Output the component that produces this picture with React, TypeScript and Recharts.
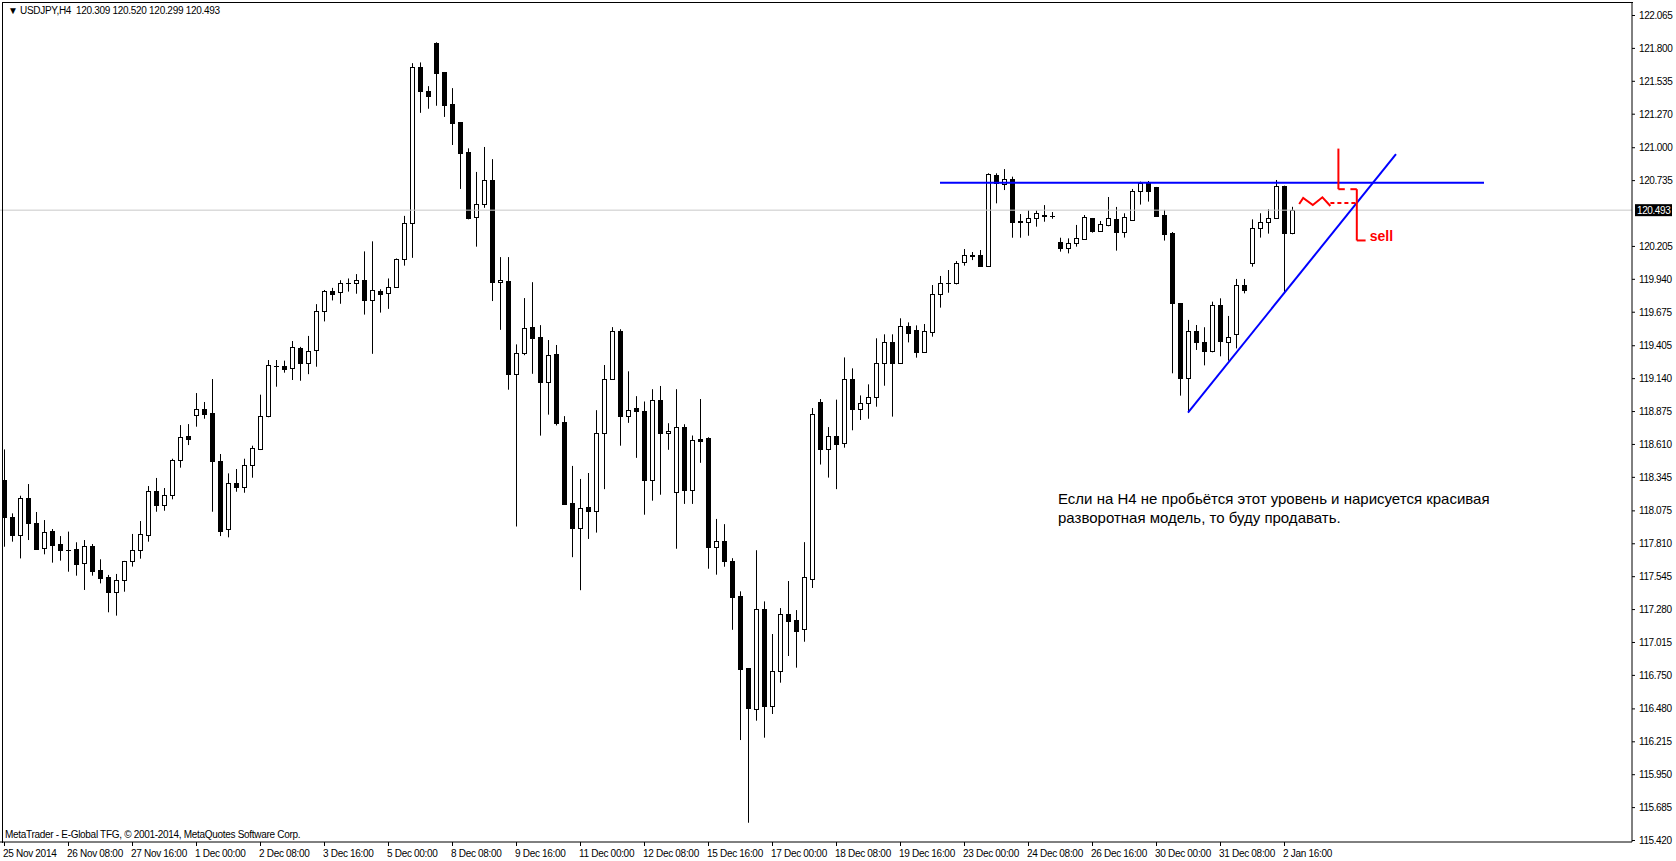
import React from 'react';
import { ComposedChart, Bar, Line, XAxis, YAxis, ReferenceLine, ReferenceDot } from 'recharts';

// USDJPY H4, 25 Nov 2014 - 2 Jan 2015, one label every 8 bars
const timeLabels = [
  '25 Nov 2014', '26 Nov 08:00', '27 Nov 16:00', '1 Dec 00:00', '2 Dec 08:00', '3 Dec 16:00',
  '5 Dec 00:00', '8 Dec 08:00', '9 Dec 16:00', '11 Dec 00:00', '12 Dec 08:00', '15 Dec 16:00',
  '17 Dec 00:00', '18 Dec 08:00', '19 Dec 16:00', '23 Dec 00:00', '24 Dec 08:00', '26 Dec 16:00',
  '30 Dec 00:00', '31 Dec 08:00', '2 Jan 16:00',
];
const labelStep = 8;

const opens = [
  118.319, 118.019, 117.874, 118.172, 117.970, 117.769, 117.909, 117.804, 117.758, 117.761,
  117.648, 117.788, 117.595, 117.538, 117.420, 117.512, 117.665, 117.756, 117.874, 118.228,
  118.115, 118.201, 118.480, 118.671, 118.840, 118.889, 118.859, 118.470, 117.922, 118.292,
  118.266, 118.443, 118.572, 118.832, 119.238, 119.238, 119.221, 119.382, 119.265, 119.363,
  119.679, 119.840, 119.831, 119.908, 119.905, 119.927, 119.771, 119.840, 119.823, 119.878,
  120.098, 120.387, 121.644, 121.454, 121.841, 121.606, 121.348, 121.203, 120.958, 120.436,
  120.539, 120.735, 119.913, 119.919, 119.175, 119.339, 119.548, 119.472, 119.113, 119.333,
  118.786, 118.133, 117.935, 118.099, 118.071, 118.695, 119.130, 119.518, 118.837, 118.896,
  118.879, 118.322, 118.961, 118.695, 118.221, 118.743, 118.240, 118.650, 118.656, 117.777,
  117.825, 117.667, 117.385, 116.805, 116.478, 117.278, 116.502, 116.778, 117.237, 117.189,
  117.117, 117.526, 118.950, 118.571, 118.678, 118.620, 119.130, 118.894, 118.937, 118.991,
  119.259, 119.428, 119.265, 119.557, 119.525, 119.353, 119.514, 119.815, 119.909, 119.903,
  120.073, 120.129, 120.129, 120.046, 120.773, 120.701, 120.741, 120.400, 120.395, 120.427,
  120.457, 120.446, 120.234, 120.185, 120.226, 120.264, 120.428, 120.328, 120.371, 120.419,
  120.320, 120.414, 120.650, 120.715, 120.677, 120.454, 120.307, 119.743, 119.139, 119.517,
  119.429, 119.356, 119.727, 119.429, 119.493, 119.888, 120.070, 120.347, 120.395, 120.428,
  120.685, 120.309,
];
const highs = [
  118.566, 118.051, 118.193, 118.287, 118.062, 117.997, 117.925, 117.868, 117.904, 117.818,
  117.836, 117.804, 117.681, 117.555, 117.563, 117.668, 117.885, 117.989, 118.271, 118.336,
  118.255, 118.491, 118.762, 118.770, 119.020, 118.948, 119.133, 118.529, 118.373, 118.408,
  118.491, 118.596, 119.007, 119.286, 119.286, 119.281, 119.439, 119.392, 119.480, 119.736,
  119.850, 119.867, 119.929, 119.943, 119.978, 120.161, 120.242, 119.856, 119.943, 120.104,
  120.447, 121.677, 121.683, 121.492, 121.845, 121.606, 121.476, 121.203, 120.991, 120.801,
  121.002, 120.904, 120.115, 120.115, 119.412, 119.785, 119.913, 119.567, 119.447, 119.407,
  118.834, 118.433, 118.328, 118.376, 118.882, 119.246, 119.551, 119.534, 119.195, 118.995,
  118.952, 119.051, 119.077, 118.777, 119.051, 118.769, 118.678, 118.972, 118.664, 118.006,
  117.964, 117.690, 117.423, 116.805, 117.754, 117.342, 117.079, 117.288, 117.506, 117.272,
  117.819, 118.899, 118.972, 118.746, 118.967, 119.307, 119.219, 119.001, 119.090, 119.461,
  119.493, 119.493, 119.622, 119.589, 119.565, 119.576, 119.890, 119.963, 120.011, 120.083,
  120.180, 120.156, 120.172, 120.790, 120.790, 120.824, 120.763, 120.462, 120.492, 120.492,
  120.534, 120.478, 120.271, 120.266, 120.374, 120.454, 120.430, 120.406, 120.599, 120.519,
  120.468, 120.664, 120.723, 120.728, 120.680, 120.495, 120.317, 119.745, 119.609, 119.568,
  119.550, 119.756, 119.783, 119.641, 119.939, 119.939, 120.419, 120.468, 120.500, 120.736,
  120.690, 120.520,
];
const lows = [
  117.782, 117.823, 117.688, 117.836, 117.760, 117.721, 117.654, 117.670, 117.581, 117.549,
  117.434, 117.549, 117.487, 117.254, 117.227, 117.420, 117.622, 117.686, 117.823, 118.064,
  118.072, 118.164, 118.419, 118.601, 118.749, 118.813, 118.064, 117.868, 117.858, 118.225,
  118.217, 118.338, 118.561, 118.825, 119.071, 119.184, 119.125, 119.119, 119.172, 119.232,
  119.597, 119.766, 119.739, 119.837, 119.820, 119.652, 119.336, 119.668, 119.698, 119.869,
  120.046, 120.109, 121.277, 121.310, 121.334, 121.244, 121.018, 120.664, 120.419, 120.199,
  120.512, 119.761, 119.529, 119.047, 117.945, 119.325, 119.175, 118.677, 118.846, 118.759,
  118.122, 117.698, 117.432, 117.845, 117.896, 118.246, 119.125, 118.596, 118.780, 118.498,
  118.040, 118.153, 118.201, 118.563, 117.766, 118.127, 118.127, 118.458, 117.605, 117.557,
  117.621, 117.113, 116.225, 115.559, 116.381, 116.244, 116.435, 116.687, 116.902, 116.808,
  117.017, 117.450, 118.444, 118.339, 118.246, 118.580, 118.720, 118.803, 118.813, 118.910,
  119.079, 118.830, 119.259, 119.428, 119.305, 119.348, 119.474, 119.708, 119.828, 119.895,
  120.046, 120.091, 120.040, 120.040, 120.548, 120.655, 120.271, 120.271, 120.287, 120.360,
  120.400, 120.424, 120.159, 120.145, 120.199, 120.253, 120.312, 120.320, 120.363, 120.167,
  120.272, 120.406, 120.538, 120.562, 120.445, 120.248, 119.179, 118.999, 118.862, 119.367,
  119.243, 119.348, 119.316, 119.281, 119.380, 119.823, 120.038, 120.272, 120.304, 120.425,
  119.823, 120.299,
];
const closes = [
  118.019, 117.874, 118.172, 117.976, 117.766, 117.898, 117.798, 117.758, 117.756, 117.640,
  117.788, 117.589, 117.528, 117.420, 117.512, 117.665, 117.756, 117.882, 118.228, 118.115,
  118.201, 118.480, 118.663, 118.652, 118.889, 118.854, 118.470, 117.911, 118.292, 118.266,
  118.437, 118.574, 118.832, 119.243, 119.240, 119.211, 119.388, 119.266, 119.355, 119.679,
  119.840, 119.820, 119.905, 119.910, 119.927, 119.771, 119.848, 119.820, 119.872, 120.098,
  120.387, 121.650, 121.449, 121.416, 121.601, 121.342, 121.198, 120.956, 120.430, 120.539,
  120.735, 119.916, 119.927, 119.175, 119.339, 119.540, 119.467, 119.113, 119.330, 118.780,
  118.127, 117.935, 118.091, 118.071, 118.695, 119.130, 119.518, 118.837, 118.885, 118.879,
  118.322, 118.961, 118.695, 118.712, 118.743, 118.240, 118.639, 118.636, 117.783, 117.825,
  117.670, 117.380, 116.800, 116.486, 117.278, 116.502, 116.778, 117.237, 117.186, 117.106,
  117.535, 118.848, 118.571, 118.678, 118.611, 119.130, 118.894, 118.937, 118.991, 119.259,
  119.428, 119.265, 119.557, 119.501, 119.353, 119.517, 119.815, 119.903, 119.906, 120.065,
  120.129, 120.126, 120.046, 120.781, 120.709, 120.741, 120.400, 120.403, 120.427, 120.467,
  120.443, 120.443, 120.185, 120.226, 120.266, 120.436, 120.328, 120.379, 120.428, 120.320,
  120.436, 120.645, 120.709, 120.650, 120.449, 120.304, 119.743, 119.139, 119.517, 119.429,
  119.356, 119.727, 119.437, 119.474, 119.888, 119.853, 120.347, 120.395, 120.428, 120.685,
  120.307, 120.493,
];

const priceTicks = [
  122.065, 121.8, 121.535, 121.27, 121.0, 120.735, 120.205, 119.94, 119.675, 119.405,
  119.14, 118.875, 118.61, 118.345, 118.075, 117.81, 117.545, 117.28, 117.015, 116.75,
  116.48, 116.215, 115.95, 115.685, 115.42,
];
const lastPrice = 120.493;

// hand-drawn objects (bar index, price)
const resistance = { from: 117, to: 185, price: 120.714 };
const trendLine = [{ i: 148, p: 118.862 }, { i: 174, p: 120.945 }];
const zigzag = [
  { i: 161.9, p: 120.543 }, { i: 162.4, p: 120.591 }, { i: 163.6, p: 120.535 },
  { i: 164.8, p: 120.597 }, { i: 165.8, p: 120.527 },
];
const dashLine = [{ i: 165.8, p: 120.55 }, { i: 169.1, p: 120.55 }];
const stopMarks = [
  [{ i: 166.8, p: 120.989 }, { i: 166.8, p: 120.662 }],
  [{ i: 166.8, p: 120.662 }, { i: 167.6, p: 120.662 }],
  [{ i: 168.3, p: 120.662 }, { i: 169.1, p: 120.662 }],
  [{ i: 169.1, p: 120.662 }, { i: 169.1, p: 120.249 }],
  [{ i: 169.1, p: 120.249 }, { i: 170.2, p: 120.249 }],
];
const sellNote = { i: 170.6, p: 120.245, text: 'sell' };
const noteAt = { i: 131.75, p: 118.126 };
const noteLines = [
  'Если на H4 не пробьётся этот уровень и нарисуется красивая',
  'разворотная модель, то буду продавать.',
];

const candles = opens.map((o, i) => ({ i, o, h: highs[i], l: lows[i], c: closes[i] }));

const uiFont = "'Liberation Sans', Arial, sans-serif";

function Candle(props: any) {
  const { x, y, width, height, payload } = props;
  const { o, h, l, c } = payload;
  const cx = Math.round(x + width / 2);
  const k = h > l ? height / (h - l) : 0;
  const py = (v: number) => y + (h - v) * k;
  const top = Math.round(py(Math.max(o, c)));
  const bot = Math.round(py(Math.min(o, c)));
  const up = c >= o;
  return (
    <g>
      <line x1={cx + 0.5} x2={cx + 0.5} y1={y} y2={y + height} stroke="#000" strokeWidth={1} />
      {bot - top < 1 ? (
        <line x1={cx - 2} x2={cx + 3} y1={top + 0.5} y2={top + 0.5} stroke="#000" strokeWidth={1} />
      ) : (
        <rect x={cx - 1.5} y={top + 0.5} width={4} height={bot - top}
          fill={up ? '#fff' : '#000'} stroke="#000" strokeWidth={1} />
      )}
    </g>
  );
}

function TimeTick(props: any) {
  const { x, y, payload } = props;
  const label = timeLabels[Math.round(payload.value / labelStep)];
  if (!label) return null;
  return (
    <g>
      <line x1={x + 0.5} x2={x + 0.5} y1={y} y2={y + 4} stroke="#000" />
      <text x={x - 1} y={y + 15} fontSize={10} letterSpacing={-0.3} fontFamily={uiFont} fill="#000">{label}</text>
    </g>
  );
}

function PriceTick(props: any) {
  const { x, y, payload } = props;
  return (
    <g>
      <line x1={x} x2={x + 3} y1={y + 0.5} y2={y + 0.5} stroke="#000" />
      <text x={x + 7} y={y + 4} fontSize={10} letterSpacing={-0.4} fontFamily={uiFont} fill="#000">
        {payload.value.toFixed(3)}
      </text>
    </g>
  );
}

function PriceLabel(props: any) {
  const { viewBox } = props;
  const x = viewBox.x + viewBox.width;
  const y = viewBox.y;
  return (
    <g>
      <rect x={x + 3} y={y - 6} width={37} height={12} fill="#000" />
      <text x={x + 5} y={y + 4} fontSize={10} letterSpacing={-0.4} fontFamily={uiFont} fill="#fff">
        {lastPrice.toFixed(3)}
      </text>
    </g>
  );
}

function NoteLabel(props: any) {
  const { viewBox } = props;
  return (
    <text x={viewBox.x} y={viewBox.y} fontSize={15} fontFamily={uiFont} fill="#000">
      {noteLines.map((t, k) => (
        <tspan key={k} x={viewBox.x} dy={k === 0 ? 0 : 19}>{t}</tspan>
      ))}
    </text>
  );
}

function SellLabel(props: any) {
  const { viewBox } = props;
  return (
    <text x={viewBox.x + 1} y={viewBox.y} fontSize={14} fontWeight="bold"
      fontFamily={uiFont} fill="#ff0000">{sellNote.text}</text>
  );
}

export default function App() {
  return (
    <div style={{ position: 'absolute', left: 0, top: 0, width: 1676, height: 861, background: '#fff' }}>
      <ComposedChart width={1676} height={861} data={candles}
        margin={{ top: 2, right: 0, bottom: 0, left: 0 }}>
        <XAxis dataKey="i" type="number" domain={[-0.5, 203.5]} allowDataOverflow
          ticks={timeLabels.map((_, k) => k * labelStep)} interval={0}
          height={19} tickLine={false} tickSize={0} tickMargin={0}
          axisLine={{ stroke: '#000' }} tick={<TimeTick />} />
        <YAxis orientation="right" type="number" domain={[115.4039, 122.1697]} allowDataOverflow
          ticks={priceTicks} interval={0} width={44} tickLine={false} tickSize={0} tickMargin={0}
          axisLine={{ stroke: '#000' }} tick={<PriceTick />} />
        <ReferenceLine y={lastPrice} stroke="#c8c8c8" strokeWidth={1} label={<PriceLabel />} />
        <Bar dataKey={(d: any) => [d.l, d.h]} barSize={5} isAnimationActive={false}
          shape={(p: any) => <Candle {...p} />} />
        <ReferenceLine segment={[{ x: resistance.from, y: resistance.price }, { x: resistance.to, y: resistance.price }]}
          stroke="#0000ff" strokeWidth={2} />
        <ReferenceLine segment={trendLine.map((d) => ({ x: d.i, y: d.p }))} stroke="#0000ff" strokeWidth={2} />
        <Line data={zigzag} dataKey="p" type="linear" stroke="#ff0000" strokeWidth={2}
          dot={false} isAnimationActive={false} />
        <ReferenceLine segment={dashLine.map((d) => ({ x: d.i, y: d.p }))} stroke="#ff0000"
          strokeWidth={2} strokeDasharray="4 3" />
        {stopMarks.map((seg, k) => (
          <ReferenceLine key={k} segment={seg.map((d) => ({ x: d.i, y: d.p }))} stroke="#ff0000" strokeWidth={2} />
        ))}
        <ReferenceDot x={sellNote.i} y={sellNote.p} r={0} stroke="none" label={<SellLabel />} />
        <ReferenceDot x={noteAt.i} y={noteAt.p} r={0} stroke="none" label={<NoteLabel />} />
      </ComposedChart>
      <div style={{ position: 'absolute', left: 2, top: 2, width: 1630, height: 840,
        borderLeft: '1px solid #000', borderTop: '1px solid #000', pointerEvents: 'none' }} />
      <div style={{ position: 'absolute', left: 8, top: 5, fontFamily: uiFont, fontSize: 10,
        letterSpacing: -0.3, color: '#000', whiteSpace: 'pre' }}>
        {'▼ USDJPY,H4  120.309 120.520 120.299 120.493'}
      </div>
      <div style={{ position: 'absolute', left: 5, top: 829, fontFamily: uiFont, fontSize: 10,
        letterSpacing: -0.3, color: '#000', whiteSpace: 'pre' }}>
        {'MetaTrader - E-Global TFG, © 2001-2014, MetaQuotes Software Corp.'}
      </div>
    </div>
  );
}
